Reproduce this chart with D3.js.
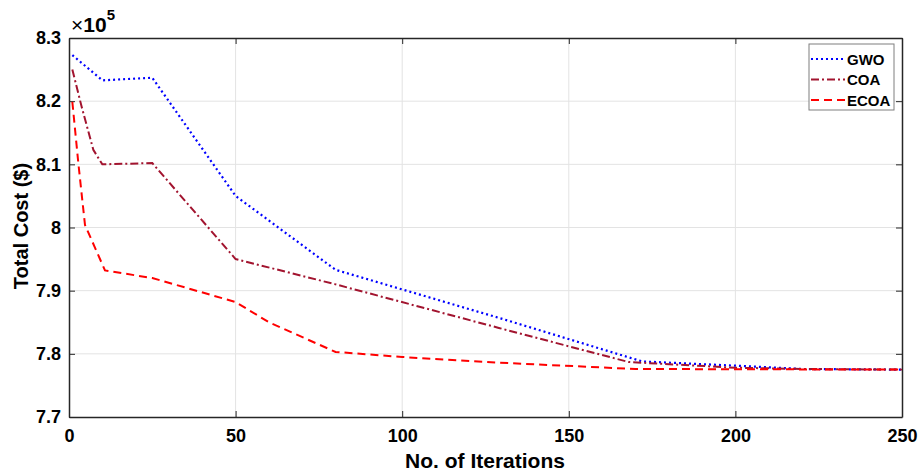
<!DOCTYPE html>
<html>
<head>
<meta charset="utf-8">
<script src="https://cdn.jsdelivr.net/npm/d3@7"></script>
<style>
  body { margin: 0; background: #fff; }
  text { font-family: "Liberation Sans", Arial, sans-serif; font-weight: bold; fill: #000; }
</style>
</head>
<body>
<svg id="chart" width="918" height="471"></svg>
<script>
// values in units of 1e5 $
const gwoIter = [1, 10, 25, 50, 80, 129, 172, 201, 220, 250];
const gwoCost = [8.273, 8.233, 8.237, 8.050, 7.933, 7.857, 7.788, 7.781, 7.776, 7.775];

const coaIter = [1, 3.8, 7.3, 10, 25, 50, 80, 129, 168, 200, 220, 250];
const coaCost = [8.250, 8.191, 8.123, 8.100, 8.102, 7.950, 7.910, 7.841, 7.787, 7.778, 7.776, 7.775];

const ecoaIter = [1, 2.8, 4.8, 10.8, 25, 50, 60, 80, 100, 129, 170, 250];
const ecoaCost = [8.199, 8.102, 8.004, 7.932, 7.920, 7.882, 7.850, 7.803, 7.795, 7.786, 7.776, 7.775];

const xTicks = [0, 50, 100, 150, 200, 250];
const yTicks = [7.7, 7.8, 7.9, 8.0, 8.1, 8.2, 8.3];
const seriesNames = ["GWO", "COA", "ECOA"];

const svg = d3.select("#chart");
const plotL = 69, plotR = 902, plotT = 38, plotB = 417;
const axisColor = "#262626";

const x = d3.scaleLinear().domain([0, 250]).range([plotL, plotR]);
const y = d3.scaleLinear().domain([7.7, 8.3]).range([plotB, plotT]);

// grid
const grid = svg.append("g");
grid.selectAll("line.gx")
    .data(xTicks.slice(1, -1))
    .enter().append("line")
    .attr("x1", d => x(d)).attr("x2", d => x(d))
    .attr("y1", plotT).attr("y2", plotB)
    .attr("stroke", "#e3e3e3").attr("stroke-width", 1);
grid.selectAll("line.gy")
    .data(yTicks.slice(1, -1))
    .enter().append("line")
    .attr("x1", plotL).attr("x2", plotR)
    .attr("y1", d => y(d)).attr("y2", d => y(d))
    .attr("stroke", "#e3e3e3").attr("stroke-width", 1);

// axes
const xAxis = d3.axisBottom(x).tickValues(xTicks).tickSizeInner(-6).tickSizeOuter(0).tickPadding(12).tickFormat(d3.format("d"));
const yAxis = d3.axisLeft(y).tickValues(yTicks).tickSizeInner(-6).tickSizeOuter(0).tickPadding(8).tickFormat(d => d === 8 ? "8" : d3.format(".1f")(d));

const gx = svg.append("g").attr("transform", `translate(0,${plotB})`).call(xAxis);
const gy = svg.append("g").attr("transform", `translate(${plotL},0)`).call(yAxis);
[gx, gy].forEach(g => {
    g.select(".domain").attr("stroke", axisColor).attr("stroke-width", 1.5);
    g.selectAll(".tick line").attr("stroke", axisColor).attr("stroke-width", 1);
    g.selectAll(".tick text").style("font-size", "18px").style("font-family", "Liberation Sans, Arial, sans-serif").style("font-weight", "bold").attr("fill", "#000");
});

// top and right box with inward ticks
const gt = svg.append("g").attr("transform", `translate(0,${plotT})`)
    .call(d3.axisTop(x).tickValues(xTicks).tickSizeInner(-6).tickSizeOuter(0).tickFormat(""));
const gr = svg.append("g").attr("transform", `translate(${plotR},0)`)
    .call(d3.axisRight(y).tickValues(yTicks).tickSizeInner(-6).tickSizeOuter(0).tickFormat(""));
[gt, gr].forEach(g => {
    g.select(".domain").attr("stroke", axisColor).attr("stroke-width", 1.5);
    g.selectAll(".tick line").attr("stroke", axisColor).attr("stroke-width", 1);
});

// lines
const line = d3.line().x(d => x(d[0])).y(d => y(d[1]));
const series = [
    { name: "GWO", pts: d3.zip(gwoIter, gwoCost), color: "#0000ff", dash: "2,3", width: 2.2 },
    { name: "COA", pts: d3.zip(coaIter, coaCost), color: "#a2142f", dash: "8,3,2,3", width: 2 },
    { name: "ECOA", pts: d3.zip(ecoaIter, ecoaCost), color: "#ff0000", dash: "8,5", width: 2 }
];
svg.append("g").selectAll("path")
    .data(series)
    .enter().append("path")
    .attr("d", d => line(d.pts))
    .attr("fill", "none")
    .attr("stroke", d => d.color)
    .attr("stroke-width", d => d.width)
    .attr("stroke-dasharray", d => d.dash);

// exponent
const ex = svg.append("text").attr("x", 71).attr("y", 32);
ex.append("tspan").attr("font-size", 21).attr("font-weight", "normal").text("\u00d7");
ex.append("tspan").attr("font-size", 21).text("10");
ex.append("tspan").attr("dy", -12).attr("font-size", 15).text("5");

// legend
const lg = svg.append("g").attr("transform", "translate(809,44)");
lg.append("rect").attr("width", 85).attr("height", 66)
    .attr("fill", "#fff").attr("stroke", "#7f7f7f").attr("stroke-width", 1);
const item = lg.selectAll("g.item")
    .data(series)
    .enter().append("g")
    .attr("transform", (d, i) => `translate(0,${15 + i * 20.5})`);
item.append("line")
    .attr("x1", 2).attr("x2", 36).attr("y1", 0).attr("y2", 0)
    .attr("stroke", d => d.color).attr("stroke-width", d => d.width)
    .attr("stroke-dasharray", d => d.dash);
item.append("text")
    .attr("x", 38).attr("y", 5.5)
    .style("font-size", "15px")
    .text((d, i) => seriesNames[i]);

// axis titles
svg.append("text").attr("x", 485).attr("y", 468)
    .attr("text-anchor", "middle").style("font-size", "21px").text("No. of Iterations");
svg.append("text").attr("transform", `translate(28,${226}) rotate(-90)`)
    .attr("text-anchor", "middle").style("font-size", "20px").text("Total Cost ($)");
</script>
</body>
</html>
